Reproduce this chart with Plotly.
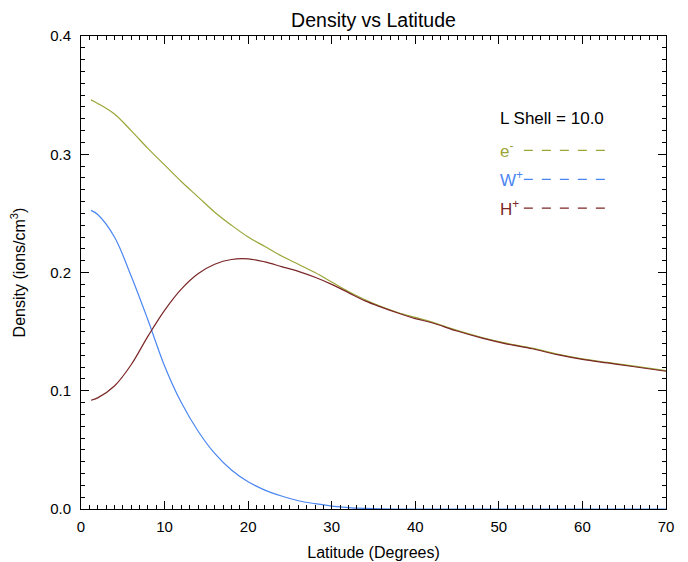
import plotly.graph_objects as go

lat = [1.2, 2, 4, 6, 8, 10, 12, 14, 16, 18, 20, 22, 24, 26, 28, 30, 32, 34, 36, 38,
       40, 42, 45, 48, 51, 54, 57, 60, 63, 66, 70]
e_minus = [0.346, 0.343, 0.334, 0.320, 0.305, 0.291, 0.277, 0.264, 0.251, 0.240, 0.230,
           0.222, 0.214, 0.207, 0.200, 0.192, 0.184, 0.177, 0.171, 0.166, 0.162, 0.158,
           0.151, 0.145, 0.140, 0.136, 0.131, 0.127, 0.124, 0.121, 0.117]
w_plus = [0.2525, 0.249, 0.230, 0.197, 0.160, 0.121, 0.090, 0.066, 0.047, 0.033, 0.023,
          0.016, 0.011, 0.007, 0.0045, 0.0025, 0.0012, 0.0005, 0.0001, 0.0, 0.0, 0.0,
          0.0, 0.0, 0.0, 0.0, 0.0, 0.0, 0.0, 0.0, 0.0]
h_plus = [0.092, 0.094, 0.104, 0.122, 0.146, 0.168, 0.186, 0.199, 0.207, 0.211, 0.2115,
          0.209, 0.205, 0.201, 0.196, 0.190, 0.183, 0.176, 0.1705, 0.1655, 0.161, 0.1575,
          0.1505, 0.1445, 0.1395, 0.1355, 0.1305, 0.1265, 0.1235, 0.1205, 0.1165]

species = ["e<sup>-</sup>", "W<sup>+</sup>", "H<sup>+</sup>"]
colors = ["#9aa636", "#4a86f2", "#7b2626"]
series = [e_minus, w_plus, h_plus]

FONT = "Liberation Sans, Arial, sans-serif"

fig = go.Figure()
for name, ys, c in zip(species, series, colors):
    fig.add_trace(go.Scatter(x=lat, y=ys, mode="lines", name=name,
                             line=dict(color=c, width=1.2, shape="spline", smoothing=1.0),
                             showlegend=False))

axis_common = dict(showline=True, linecolor="black", linewidth=1, mirror="all",
                   ticks="inside", tickcolor="black", ticklen=8, tickwidth=1,
                   showgrid=False, zeroline=False, automargin=False,
                   tickfont=dict(family=FONT, size=15, color="black"))

fig.update_xaxes(range=[0, 70], dtick=10, tick0=0, ticklabelstandoff=4,
                 minor=dict(ticks="inside", dtick=1, ticklen=4, tickcolor="black", showgrid=False),
                 title=dict(text="Latitude (Degrees)", font=dict(family=FONT, size=16, color="black"),
                            standoff=12),
                 **axis_common)
fig.update_yaxes(range=[0, 0.4], dtick=0.1, tick0=0, tickformat=".1f", ticklabelstandoff=6,
                 minor=dict(ticks="inside", dtick=0.01, ticklen=4, tickcolor="black", showgrid=False),
                 title=dict(text="Density (ions/cm<sup>3</sup>)", font=dict(family=FONT, size=16, color="black"),
                            standoff=20),
                 **axis_common)

# Legend block (text left, dashed line right)
annotations = [dict(x=0.713, y=0.826, xref="paper", yref="paper", text="L Shell = 10.0",
                    showarrow=False, xanchor="left", yanchor="middle",
                    font=dict(family=FONT, size=17, color="black"))]
shapes = []
leg_y = [0.758, 0.697, 0.636]
for name, c, yy in zip(species, colors, leg_y):
    annotations.append(dict(x=0.713, y=yy, xref="paper", yref="paper", text=name,
                            showarrow=False, xanchor="left", yanchor="middle",
                            font=dict(family=FONT, size=17, color=c)))
    shapes.append(dict(type="line", xref="paper", yref="paper", x0=0.757, x1=0.896,
                       y0=yy, y1=yy, line=dict(color=c, width=1.2, dash="dash")))

fig.update_layout(
    width=688, height=562,
    margin=dict(l=81, r=22, t=36, b=53),
    paper_bgcolor="white", plot_bgcolor="white",
    title=dict(text="Density vs Latitude", x=0.5, xref="paper", xanchor="center",
               y=0.964, yanchor="middle", font=dict(family=FONT, size=19.5, color="black")),
    annotations=annotations, shapes=shapes,
    font=dict(family=FONT),
)

fig.write_html("out.html")
